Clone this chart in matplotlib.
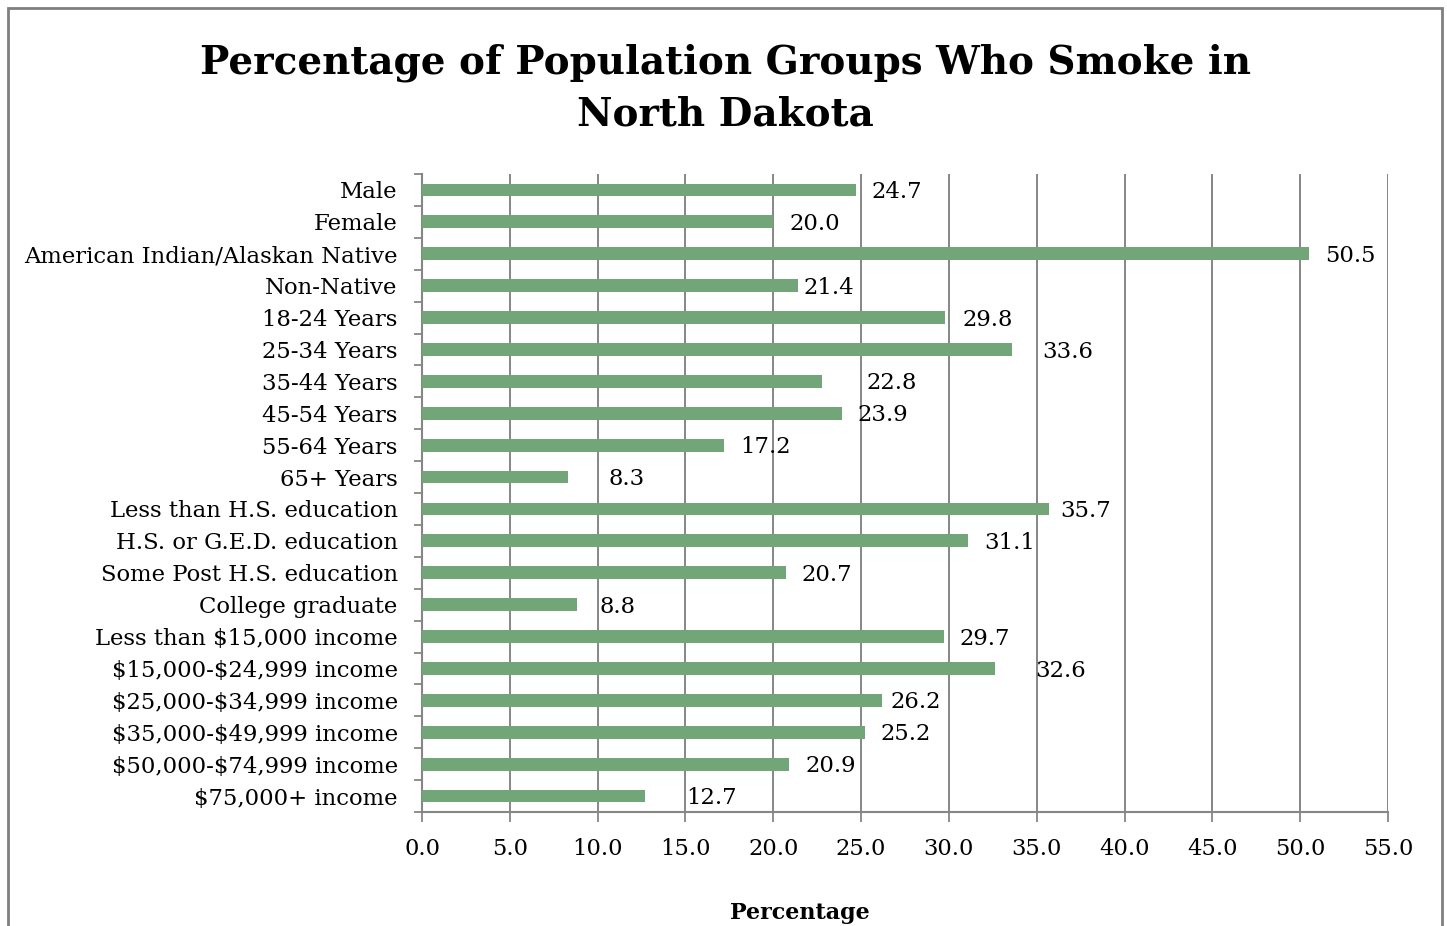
import matplotlib
matplotlib.use("Agg")
import matplotlib.pyplot as plt
from matplotlib.patches import Rectangle
from matplotlib.ticker import FixedLocator, NullFormatter

plt.rcParams["text.parse_math"] = False

categories = [
    "Male", "Female", "American Indian/Alaskan Native", "Non-Native",
    "18-24 Years", "25-34 Years", "35-44 Years", "45-54 Years", "55-64 Years",
    "65+ Years", "Less than H.S. education", "H.S. or G.E.D. education",
    "Some Post H.S. education", "College graduate", "Less than $15,000 income",
    "$15,000-$24,999 income", "$25,000-$34,999 income", "$35,000-$49,999 income",
    "$50,000-$74,999 income", "$75,000+ income",
]
values = [24.7, 20.0, 50.5, 21.4, 29.8, 33.6, 22.8, 23.9, 17.2, 8.3,
          35.7, 31.1, 20.7, 8.8, 29.7, 32.6, 26.2, 25.2, 20.9, 12.7]
x_ticks = [0, 5, 10, 15, 20, 25, 30, 35, 40, 45, 50, 55]
title = "Percentage of Population Groups Who Smoke in\nNorth Dakota"
x_label = "Percentage"

# label offsets in pixels (styling, as placed in the original)
label_offsets = [16, 16, 16, 6, 17, 30, 44, 16, 16, 41,
                 11, 16, 16, 23, 16, 41, 8, 16, 16, 41]

W, H = 1447, 926
fig = plt.figure(figsize=(W / 100, H / 100), dpi=100)
serif = ["DejaVu Serif"]

ax = fig.add_axes([422 / W, 1 - 812 / H, (1388 - 422) / W, (812 - 174) / H])
n = len(categories)
ypos = list(range(n))
bar_color = "#72A578"
ax.barh(ypos, values, height=0.4, color=bar_color, zorder=3)
ax.set_ylim(n - 0.5, -0.5)
ax.set_xlim(0, 55)
ax.set_xticks(x_ticks)
ax.set_xticklabels([f"{t:.1f}" for t in x_ticks], fontfamily=serif, fontsize=16.3)
ax.set_yticks(ypos)
ax.set_yticklabels(categories, fontfamily=serif, fontsize=16.4)
ax.tick_params(axis="y", which="major", length=0, pad=17.5)
ax.yaxis.set_minor_locator(FixedLocator([i - 0.5 for i in range(n + 1)]))
ax.yaxis.set_minor_formatter(NullFormatter())
ax.tick_params(axis="y", which="minor", length=6, color="#868686", width=1.3)
ax.tick_params(axis="x", length=7, color="#868686", width=1.3, pad=12)
ax.grid(axis="x", color="#868686", linewidth=1.4, zorder=0)
for s in ["top", "right"]:
    ax.spines[s].set_visible(False)
for s in ["left", "bottom"]:
    ax.spines[s].set_color("#868686")
    ax.spines[s].set_linewidth(1.5)

for i, (v, off) in enumerate(zip(values, label_offsets)):
    ax.annotate(f"{v:.1f}", xy=(v, i), xytext=(off * 0.72, -1.5),
                textcoords="offset points", va="center", ha="left",
                fontfamily=serif, fontsize=16.4, zorder=4)

fig.text(725 / W, 1 - 88 / H, title, ha="center", va="center",
         fontfamily=serif, fontweight="bold", fontsize=28, linespacing=1.45)
fig.text(800 / W, 1 - 913 / H, x_label, ha="center", va="center",
         fontfamily=serif, fontweight="bold", fontsize=16)

frame = Rectangle((8 / W, -0.05), (1442 - 8) / W, 1 - 8 / H + 0.05,
                  transform=fig.transFigure, fill=False, edgecolor="#7f7f7f",
                  linewidth=2)
fig.patches.append(frame)

fig.savefig("out.png", dpi=100)
